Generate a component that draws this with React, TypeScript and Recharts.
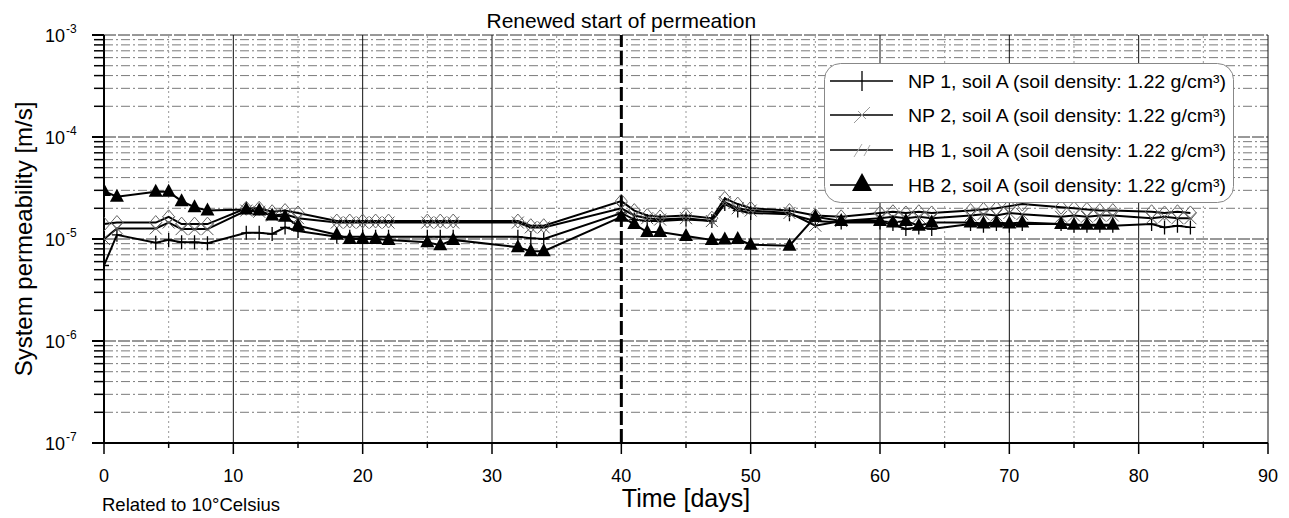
import React from "react";
import { LineChart, Line, XAxis, YAxis, ReferenceLine, Label } from "recharts";

const FONT = '"Liberation Sans", Arial, Helvetica, sans-serif';
const UNIT = 1e-5; // series values below are in 10^-5 m/s

const DAYS = [0, 1, 4, 5, 6, 7, 8, 11, 12, 13, 14, 15, 18, 19, 20, 21, 22, 25, 26, 27, 32, 33, 34, 40, 41, 42, 43, 45, 47, 48, 49, 50, 53, 55, 57, 60, 61, 62, 63, 64, 67, 68, 69, 70, 71, 74, 75, 76, 77, 78, 81, 82, 83, 84];

const NP1 = [0.55, 1.1, 0.92, 0.98, 0.93, 0.93, 0.91, 1.15, 1.15, 1.12, 1.3, 1.2, 1.05, 1.05, 1.05, 1.05, 1.05, 1.05, 1.05, 1.05, 1.05, 1.02, 1.0, 1.8, 1.55, 1.5, 1.5, 1.55, 1.5, 2.2, 1.9, 1.8, 1.75, 1.5, 1.45, 1.45, 1.4, 1.25, 1.3, 1.25, 1.4, 1.35, 1.4, 1.35, 1.4, 1.4, 1.35, 1.35, 1.35, 1.35, 1.4, 1.3, 1.35, 1.3];
const NP2 = [1.0, 1.27, 1.27, 1.45, 1.25, 1.25, 1.25, 1.9, 1.85, 1.7, 1.75, 1.6, 1.45, 1.45, 1.45, 1.45, 1.45, 1.45, 1.45, 1.45, 1.45, 1.3, 1.3, 2.0, 1.7, 1.6, 1.55, 1.6, 1.5, 2.3, 2.0, 1.9, 1.8, 1.35, 1.5, 1.6, 1.65, 1.6, 1.65, 1.6, 1.7, 1.75, 1.7, 1.8, 1.75, 1.65, 1.7, 1.65, 1.7, 1.7, 1.6, 1.65, 1.6, 1.6];
const HB1 = [1.4, 1.45, 1.45, 1.65, 1.4, 1.4, 1.4, 2.0, 2.0, 1.85, 1.9, 1.8, 1.5, 1.5, 1.5, 1.5, 1.5, 1.5, 1.5, 1.5, 1.5, 1.35, 1.35, 2.35, 1.9, 1.7, 1.65, 1.7, 1.6, 2.5, 2.2, 2.0, 1.9, 1.7, 1.65, 1.8, 1.85, 1.8, 1.85, 1.8, 1.9, 1.95, 2.0, 2.1, 2.2, 2.05, 2.0, 1.95, 1.9, 1.9, 1.85, 1.8, 1.85, 1.8];
// HB 2 stops at day 78
const HB2 = [2.95, 2.6, 2.9, 2.9, 2.35, 2.05, 1.9, 1.95, 1.9, 1.7, 1.65, 1.35, 1.1, 1.0, 1.0, 1.0, 0.98, 0.93, 0.87, 0.98, 0.83, 0.76, 0.76, 1.65, 1.4, 1.17, 1.17, 1.07, 0.98, 0.99, 1.0, 0.88, 0.86, 1.65, 1.5, 1.5, 1.45, 1.5, 1.35, 1.45, 1.45, 1.42, 1.45, 1.42, 1.45, 1.4, 1.38, 1.38, 1.38, 1.38];

const SERIES_NAMES = [
  "NP 1, soil A (soil density: 1.22 g/cm³)",
  "NP 2, soil A (soil density: 1.22 g/cm³)",
  "HB 1, soil A (soil density: 1.22 g/cm³)",
  "HB 2, soil A (soil density: 1.22 g/cm³)",
];

const X_TICKS = [0, 5, 10, 15, 20, 25, 30, 35, 40, 45, 50, 55, 60, 65, 70, 75, 80, 85, 90];
const DECADES = [1e-7, 1e-6, 1e-5, 1e-4, 1e-3];
const MINOR_STEPS = [2, 3, 4, 5, 6, 7, 8, 9];
const Y_TICKS = [
  ...DECADES,
  ...DECADES.slice(0, -1).flatMap((d) => MINOR_STEPS.map((m) => m * d)),
].sort((a, b) => a - b);

const RESTART_DAY = 40;

const toRows = (vals: number[]) => vals.map((v, i) => ({ day: DAYS[i], v: v * UNIT }));

const isDecade = (v: number) => Math.abs(Math.log10(v) - Math.round(Math.log10(v))) < 1e-6;

function XTick(props: any) {
  const { x, y, payload } = props;
  const major = payload.value % 10 === 0;
  return (
    <g>
      <line x1={x} x2={x} y1={y - 11} y2={major ? y : y - 6} stroke="#000" strokeWidth={1.5} />
      {major && (
        <text x={x} y={y + 28} textAnchor="middle" fontSize={18} fontFamily={FONT} fill="#000">
          {payload.value}
        </text>
      )}
    </g>
  );
}

function YTick(props: any) {
  const { x, y, payload } = props;
  const major = isDecade(payload.value);
  const exp = Math.round(Math.log10(payload.value));
  return (
    <g>
      <line x1={major ? x : x + 2} x2={x + 12} y1={y} y2={y} stroke="#000" strokeWidth={major ? 2 : 1.5} />
      {major && (
        <>
          <text x={x - 27} y={y + 7} textAnchor="end" fontSize={18} fontFamily={FONT} fill="#000">10</text>
          <text x={x - 26} y={y - 2} fontSize={12} fontFamily={FONT} fill="#000">{exp}</text>
        </>
      )}
    </g>
  );
}

function PlusDot(p: any) {
  const { cx, cy, index } = p;
  return <path key={`p${index}`} d={`M${cx - 5},${cy}H${cx + 5}M${cx},${cy - 7}V${cy + 7}`} stroke="#000" strokeWidth={1.3} fill="none" />;
}
function CrossDot(p: any) {
  const { cx, cy, index } = p;
  return <path key={`x${index}`} d={`M${cx - 6},${cy - 6}L${cx + 6},${cy + 6}M${cx - 6},${cy + 6}L${cx + 6},${cy - 6}`} stroke="#555" strokeWidth={1} fill="none" />;
}
function DiamondDot(p: any) {
  const { cx, cy, index } = p;
  return <path key={`d${index}`} d={`M${cx},${cy - 7}L${cx + 6},${cy}L${cx},${cy + 7}L${cx - 6},${cy}Z`} stroke="#666" strokeWidth={1} fill="none" />;
}
function TriDot(p: any) {
  const { cx, cy, index } = p;
  return <path key={`t${index}`} d={`M${cx},${cy - 8}L${cx + 7},${cy + 5}L${cx - 7},${cy + 5}Z`} fill="#000" />;
}

function LegendBox() {
  const rows = [81, 115, 150, 185];
  const markers = [
    (cx: number, cy: number) => <path d={`M${cx},${cy - 10}V${cy + 10}`} stroke="#000" strokeWidth={1.3} />,
    (cx: number, cy: number) => <path d={`M${cx - 8},${cy + 8}L${cx + 8},${cy - 8}M${cx - 4},${cy - 4}L${cx + 4},${cy + 4}`} stroke="#999" strokeWidth={1} />,
    (cx: number, cy: number) => <path d={`M${cx - 8},${cy + 7}L${cx},${cy - 6}M${cx + 2},${cy + 6}L${cx + 8},${cy - 5}`} stroke="#aaa" strokeWidth={1} />,
    (cx: number, cy: number) => <path d={`M${cx},${cy - 12}L${cx + 10},${cy + 6}L${cx - 10},${cy + 6}Z`} fill="#000" />,
  ];
  return (
    <svg width={1289} height={518} style={{ position: "absolute", left: 0, top: 0, pointerEvents: "none" }}>
      <rect x={824.5} y={63.5} width={409} height={139} rx={16} fill="#fff" stroke="#888" strokeWidth={1} />
      {SERIES_NAMES.map((name, i) => (
        <g key={name}>
          <line x1={830} x2={893} y1={rows[i]} y2={rows[i]} stroke="#000" strokeWidth={1.5} />
          {markers[i](862, rows[i])}
          <text x={908} y={rows[i] + 7} fontSize={19} fontFamily={FONT} fill="#000" textLength={318} lengthAdjust="spacingAndGlyphs">
            {name}
          </text>
        </g>
      ))}
    </svg>
  );
}

export default function App() {
  const series = [
    { name: SERIES_NAMES[0], data: toRows(NP1), dot: PlusDot },
    { name: SERIES_NAMES[1], data: toRows(NP2), dot: CrossDot },
    { name: SERIES_NAMES[2], data: toRows(HB1), dot: DiamondDot },
    { name: SERIES_NAMES[3], data: toRows(HB2), dot: TriDot },
  ];
  const minorY = Y_TICKS.filter((v) => !isDecade(v));

  return (
    <div style={{ position: "absolute", left: 0, top: 0, width: 1289, height: 518, background: "#fff" }}>
      <LineChart width={1289} height={518} margin={{ top: 35, right: 21, bottom: 0, left: 0 }}>
        <XAxis
          type="number"
          dataKey="day"
          domain={[0, 90]}
          ticks={X_TICKS}
          interval={0}
          tick={<XTick />}
          tickLine={false}
          tickSize={11}
          tickMargin={0}
          height={75}
          axisLine={{ stroke: "#000", strokeWidth: 2 }}
          allowDataOverflow
        >
          <Label
            content={() => (
              <g>
                <text x={686} y={507} textAnchor="middle" fontSize={25} fontFamily={FONT} fill="#000">Time [days]</text>
                <text x={102} y={511} fontSize={18.5} fontFamily={FONT} fill="#000">Related to 10°Celsius</text>
              </g>
            )}
          />
        </XAxis>
        <YAxis
          type="number"
          scale="log"
          domain={[1e-7, 1e-3]}
          ticks={Y_TICKS}
          interval={0}
          tick={<YTick />}
          tickLine={false}
          tickSize={12}
          tickMargin={0}
          width={104}
          axisLine={{ stroke: "#000", strokeWidth: 2 }}
          allowDataOverflow
        >
          <Label
            content={() => (
              <text
                x={23}
                y={239}
                transform="rotate(-90 23 239)"
                textAnchor="middle"
                dominantBaseline="central"
                fontSize={24}
                fontFamily={FONT}
                fill="#000"
              >
                System permeability [m/s]
              </text>
            )}
          />
        </YAxis>

        {minorY.map((v) => (
          <ReferenceLine key={`hm${v}`} y={v} stroke="#7a7a7a" strokeWidth={1} strokeDasharray="9 3 2 3" />
        ))}
        {DECADES.slice(1).map((v) => (
          <ReferenceLine key={`hM${v}`} y={v} stroke="#333" strokeWidth={1} strokeDasharray="12 2" />
        ))}
        {X_TICKS.filter((d) => d > 0 && d % 10 !== 0).map((d) => (
          <ReferenceLine key={`vm${d}`} x={d} stroke="#999" strokeWidth={1} strokeDasharray="2 3" />
        ))}
        {X_TICKS.filter((d) => d > 0 && d % 10 === 0 && d !== RESTART_DAY).map((d) => (
          <ReferenceLine key={`vM${d}`} x={d} stroke="#111" strokeWidth={1} />
        ))}
        <ReferenceLine x={RESTART_DAY} stroke="#000" strokeWidth={3} strokeDasharray="14 4">
          <Label value="Renewed start of permeation" position="top" offset={7} fontSize={21} fontFamily={FONT} fill="#000" />
        </ReferenceLine>

        {series.map((s) => (
          <Line
            key={s.name}
            name={s.name}
            data={s.data}
            dataKey="v"
            type="linear"
            stroke="#000"
            strokeWidth={2}
            dot={s.dot}
            activeDot={false}
            isAnimationActive={false}
          />
        ))}
      </LineChart>
      <LegendBox />
    </div>
  );
}
